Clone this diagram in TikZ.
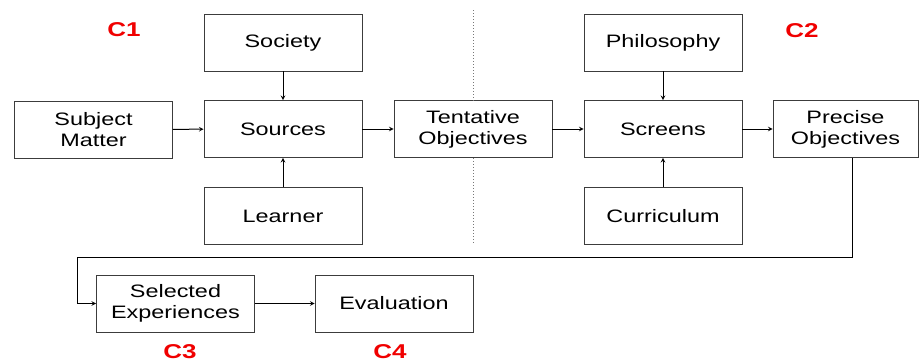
\documentclass[tikz,border=0pt]{standalone}
\usepackage{fontspec}
\setmainfont{Liberation Sans}[FakeStretch=1.3]
\usetikzlibrary{arrows,positioning,calc}
\definecolor{boxborder}{RGB}{60,60,60}
\definecolor{labelred}{RGB}{240,0,0}
\definecolor{divider}{RGB}{120,120,120}

\begin{document}
\begin{tikzpicture}[x=1pt, y=-1pt,
    box/.style={draw=boxborder, line width=0.9pt, fill=white, align=center,
                minimum width=158pt, minimum height=57pt, inner sep=0pt,
                font=\fontsize{18}{21}\selectfont},
    arrow/.style={line width=1pt, ->, >=stealth, black},
    tag/.style={font=\fontsize{20}{22}\selectfont\bfseries, text=labelred},
    divide/.style={divider, dotted, line width=1pt}
]
\useasboundingbox (0,0) rectangle (919,362);

% Stage one
\node[box] (subject) at (93.5,129.5) {Subject\\Matter};
\node[box] (sources) at (283,129) {Sources};
\node[box] (society) at (283,42.5) {Society};
\node[box] (learner) at (283,216) {Learner};
\node[box] (tentative) at (473,129) {Tentative\\Objectives};

% Stage two
\node[box] (screens) at (663,129) {Screens};
\node[box] (philosophy) at (663,42.5) {Philosophy};
\node[box] (curriculum) at (663,216) {Curriculum};
\node[box, minimum width=145pt] (precise) at (845.5,129) {Precise\\Objectives};

% Bottom row
\node[box] (selected) at (175.5,303.5) {Selected\\Experiences};
\node[box] (evaluation) at (394,303.5) {Evaluation};

% Stage labels
\node[tag] (c1) at (124,30) {C1};
\node[tag] (c2) at (802,31) {C2};
\node[tag] (c3) at (180,352) {C3};
\node[tag] (c4) at (390,352) {C4};

% Divider between stages
\coordinate (div-top) at (473,10);
\coordinate (div-bot) at (473,244);
\draw[divide] (div-top) -- (tentative.north);
\draw[divide] (tentative.south) -- (div-bot);

% Connect main flow
\draw[arrow] (subject) -- (sources);
\draw[arrow] (society) -- (sources);
\draw[arrow] (learner) -- (sources);
\draw[arrow] (sources) -- (tentative);
\draw[arrow] (tentative) -- (screens);
\draw[arrow] (philosophy) -- (screens);
\draw[arrow] (curriculum) -- (screens);
\draw[arrow] (screens) -- (precise);

% Loop back to the bottom row
\coordinate (bend) at (77,257);
\draw[arrow] ($(precise.south)+(6.5,0)$) |- (bend) |- (selected.west);
\draw[arrow] (selected) -- (evaluation);

\end{tikzpicture}
\end{document}
